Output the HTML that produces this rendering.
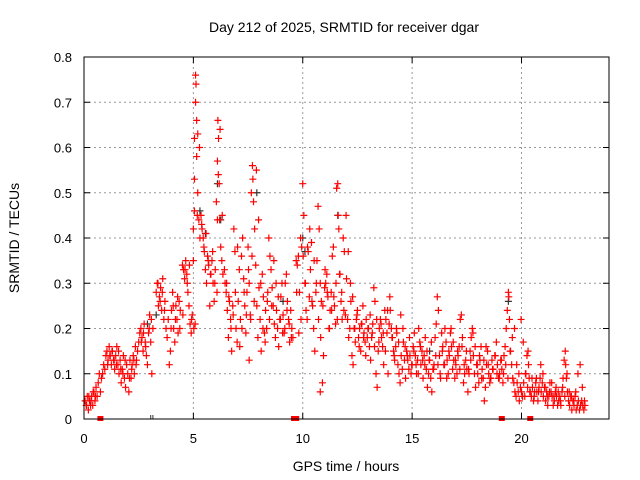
<!DOCTYPE html>
<html><head><meta charset="utf-8"><style>
body{margin:0;background:#fff;width:640px;height:480px;overflow:hidden}
svg{display:block;font-family:"Liberation Sans",sans-serif}
</style></head><body>
<svg id="chart" width="640" height="480">
<text x="344" y="32" font-size="14" text-anchor="middle" fill="#000">Day 212 of 2025, SRMTID for receiver dgar</text>
<text x="346" y="471" font-size="14" text-anchor="middle">GPS time / hours</text>
<text transform="translate(19,238) rotate(-90)" font-size="14" text-anchor="middle">SRMTID / TECUs</text>
<g id="grid"></g><g id="ticks"></g><g id="gray"></g><g id="marks"></g>
<rect x="84" y="57" width="525" height="362" fill="none" stroke="#000" stroke-width="1"/>
</svg>
<script>
const xTicks=[0,5,10,15,20];
const yTicks=[0,0.1,0.2,0.3,0.4,0.5,0.6,0.7,0.8];
const yTickLabels=["0","0.1","0.2","0.3","0.4","0.5","0.6","0.7","0.8"];
const hours=[0.05,0.1,0.15,0.2,0.25,0.3,0.35,0.4,0.45,0.5,0.55,0.6,0.65,0.7,0.75,0.8,0.85,0.9,0.95,
1.0,1.05,1.1,1.15,1.2,1.25,1.3,1.35,1.4,1.45,1.5,1.55,1.6,1.65,1.7,1.75,1.8,1.85,1.9,1.95,
2.0,2.05,2.1,2.15,2.2,2.25,2.3,2.35,2.4,2.45,2.5,2.55,2.6,2.65,2.7,2.75,2.8,2.85,2.9,2.95,3.0,3.05,3.1,3.15,
3.3,3.35,3.4,3.45,3.5,3.55,3.6,3.65,3.7,3.75,3.8,3.85,3.9,3.95,4.0,4.05,4.1,4.15,4.2,4.25,4.3,4.35,4.4,
4.5,4.55,4.6,4.65,4.7,4.75,4.8,4.85,4.9,4.95,5.0,5.05,5.05,5.1,5.1,5.12,5.15,5.15,5.2,5.2,5.25,5.3,5.0,5.05,
5.35,5.4,5.45,5.5,5.55,5.6,5.65,5.7,5.75,5.8,5.85,5.9,5.95,6.0,6.05,6.1,6.12,6.15,6.18,6.2,6.25,6.3,6.35,6.1,
6.45,6.5,6.55,6.6,6.65,6.7,6.75,6.8,6.85,6.9,6.95,7.0,7.05,7.1,7.15,7.2,7.25,7.3,7.35,7.4,7.45,
7.5,7.55,7.6,7.65,7.7,7.72,7.75,7.8,7.85,7.9,7.95,7.55,
8.0,8.05,8.1,8.15,8.2,8.25,8.3,8.35,8.4,8.45,8.5,8.55,8.6,8.65,8.7,8.75,8.8,8.85,8.9,8.95,
9.0,9.05,9.1,9.15,9.2,9.25,9.3,9.35,9.4,9.45,9.5,9.55,
9.7,9.75,9.8,9.85,9.9,9.95,10.0,10.05,10.1,10.15,10.2,10.25,10.3,
10.35,10.4,10.45,10.5,10.55,10.6,10.65,10.7,10.75,10.8,10.85,10.9,10.95,10.8,
11.0,11.05,11.1,11.15,11.2,11.25,11.3,11.35,11.4,11.45,11.5,11.55,11.6,11.62,11.65,11.7,11.75,11.8,11.85,11.9,11.95,
12.0,12.05,12.1,12.15,12.2,12.25,12.3,12.35,12.4,12.45,12.5,12.55,12.6,12.65,12.7,12.75,12.8,12.85,12.9,12.95,
13.0,13.05,13.1,13.15,13.2,13.25,13.3,13.35,13.4,13.45,13.5,13.55,13.6,13.65,13.7,13.75,13.8,13.85,13.9,13.95,
14.0,14.05,14.1,14.15,14.2,14.25,14.3,14.35,14.4,14.45,14.5,14.55,14.6,14.65,14.7,14.75,14.8,14.85,14.9,14.95,
15.0,15.05,15.1,15.15,15.2,15.25,15.3,15.35,15.4,15.45,15.5,15.55,15.6,15.65,15.7,15.75,15.8,15.85,15.9,15.95,
16.0,16.05,16.1,16.15,16.2,16.25,16.3,16.35,16.4,16.45,16.5,16.55,16.6,16.65,16.7,16.75,16.8,16.85,16.9,16.95,
17.0,17.05,17.1,17.15,17.2,17.25,17.3,17.35,17.4,17.45,17.5,17.55,17.6,17.65,17.7,17.75,17.8,17.85,17.9,17.95,
18.0,18.05,18.1,18.15,18.2,18.25,18.3,18.35,18.4,18.45,18.5,18.55,18.6,18.65,18.7,18.8,18.85,18.9,18.95,
19.0,19.05,19.1,19.15,19.2,19.25,19.3,19.35,19.4,19.42,19.45,19.5,19.55,19.6,19.65,19.7,19.75,19.8,19.85,19.9,19.95,
20.0,20.05,20.1,20.15,20.2,20.25,20.3,20.32,20.35,20.4,20.45,20.5,20.55,20.6,20.65,20.7,20.75,20.8,20.85,20.9,20.95,
21.0,21.05,21.1,21.15,21.2,21.25,21.3,21.35,21.4,21.45,21.5,21.55,21.6,21.65,21.7,21.75,21.8,21.85,21.9,21.95,
22.0,22.02,22.05,22.1,22.15,22.2,22.25,22.3,22.35,22.4,22.45,22.5,22.55,22.6,22.65,22.7,22.75,22.8,22.85,22.9];
const tec=[.04,.03,.05,.02,.04,.03,.05,.03,.06,.04,.07,.05,.08,.1,.06,.09,.1,.12,.11,
.14,.15,.13,.16,.14,.12,.15,.13,.11,.14,.16,.12,.1,.13,.08,.11,.14,.09,.07,.12,
.1,.06,.13,.09,.12,.14,.1,.16,.13,.15,.17,.19,.2,.18,.15,.21,.17,.14,.12,.19,.23,.17,.1,.2,
.28,.3,.25,.27,.29,.24,.31,.22,.26,.2,.18,.22,.12,.15,.24,.28,.2,.17,.25,.22,.19,.26,.24,
.34,.33,.31,.35,.32,.28,.25,.21,.19,.23,.35,.53,.62,.7,.76,.74,.66,.58,.63,.5,.44,.4,.42,.46,
.45,.42,.4,.37,.33,.3,.36,.34,.25,.32,.35,.3,.26,.33,.48,.57,.66,.62,.52,.44,.38,.35,.32,.44,
.3,.28,.24,.18,.26,.22,.15,.25,.42,.37,.2,.17,.26,.33,.22,.36,.4,.31,.25,.19,.28,
.38,.3,.23,.5,.56,.53,.48,.42,.34,.25,.18,.13,
.29,.22,.15,.32,.27,.19,.24,.2,.28,.4,.36,.33,.29,.25,.21,.18,.24,.2,.16,.22,
.27,.3,.23,.19,.3,.32,.26,.22,.17,.24,.2,.18,
.35,.34,.36,.28,.4,.38,.52,.45,.3,.24,.22,.37,.27,
.33,.39,.25,.2,.15,.28,.35,.47,.42,.3,.26,.08,.14,.06,
.29,.3,.32,.27,.2,.24,.28,.36,.38,.25,.21,.51,.52,.45,.42,.32,.26,.22,.4,.37,.23,
.31,.22,.18,.2,.26,.14,.12,.2,.17,.22,.24,.18,.2,.15,.21,.25,.19,.17,.22,.18,
.2,.16,.13,.18,.21,.29,.26,.1,.07,.15,.2,.22,.18,.16,.12,.24,.22,.19,.1,.21,
.24,.2,.18,.15,.13,.16,.19,.12,.1,.08,.14,.11,.17,.13,.09,.15,.13,.11,.14,.1,
.12,.16,.19,.14,.1,.13,.2,.17,.12,.15,.09,.14,.18,.11,.07,.1,.13,.09,.06,.11,
.12,.18,.21,.27,.24,.14,.09,.19,.16,.12,.2,.17,.13,.1,.14,.19,.16,.11,.13,.09,
.12,.1,.14,.16,.22,.23,.18,.08,.1,.13,.11,.06,.1,.15,.18,.2,.14,.1,.07,.12,
.1,.08,.13,.16,.11,.09,.04,.07,.12,.15,.1,.08,.09,.13,.11,.14,.17,.12,.09,
.1,.13,.11,.08,.14,.16,.2,.24,.28,.27,.22,.15,.12,.09,.08,.06,.05,.08,.06,.04,.07,
.06,.05,.08,.05,.1,.14,.15,.12,.09,.06,.05,.07,.04,.06,.08,.06,.04,.07,.09,.06,.08,
.05,.07,.04,.06,.03,.05,.08,.06,.05,.03,.04,.06,.05,.03,.04,.05,.03,.06,.09,.13,
.15,.12,.09,.06,.04,.03,.05,.02,.04,.03,.05,.02,.03,.04,.02,.03,.04,.03,.02,.03];
const hoursB=[0.12,0.22,0.32,0.42,0.52,1.08,1.18,1.28,1.38,1.48,1.58,1.68,1.78,1.88,2.08,2.18,2.28,2.38,2.62,2.72,2.82,2.98,3.08,
3.38,3.48,3.58,3.68,3.98,4.08,4.18,4.28,4.38,4.52,4.62,4.72,4.82,4.92,5.02,5.08,5.18,5.28,5.38,5.48,5.58,5.68,5.78,5.88,5.98,
6.08,6.14,6.22,6.32,6.42,6.52,6.62,6.72,6.82,6.92,7.02,7.12,7.22,7.32,7.42,7.52,7.62,7.68,7.78,7.88,7.98,8.08,8.18,8.28,8.38,
8.48,8.58,8.68,8.78,8.88,8.98,9.08,9.18,9.28,9.38,9.48,9.72,9.82,9.92,10.02,10.12,10.22,10.32,10.42,10.52,10.62,10.72,10.82,
10.92,11.02,11.12,11.22,11.32,11.42,11.52,11.58,11.68,11.78,11.88,11.98,12.08,12.18,12.28,12.38,12.48,12.58,12.68,12.78,12.88,
12.98,13.08,13.18,13.28,13.38,13.48,13.58,13.68,13.78,13.88,13.98,14.08,14.18,14.28,14.38,14.48,14.58,14.68,14.78,14.88,14.98,
15.08,15.18,15.28,15.38,15.48,15.58,15.68,15.78,15.88,15.98,16.08,16.18,16.28,16.38,16.48,16.58,16.68,16.78,16.88,16.98,
17.08,17.18,17.28,17.38,17.48,17.58,17.68,17.78,17.88,17.98,18.08,18.18,18.28,18.38,18.48,18.58,18.68,18.78,18.88,18.98,
19.08,19.18,19.28,19.38,19.48,19.58,19.68,19.78,19.88,19.98,20.08,20.18,20.28,20.38,20.48,20.58,20.68,20.78,20.88,20.98,
21.08,21.18,21.28,21.38,21.48,21.58,21.68,21.78,21.88,21.98,22.08,22.18,22.28,22.38,22.48,22.58,22.68,22.78,22.88];
const tecB=[.03,.05,.04,.06,.05,.12,.14,.15,.13,.12,.15,.11,.1,.13,.09,.11,.13,.12,.17,.19,.16,.2,.22,
.3,.26,.28,.24,.2,.25,.22,.27,.2,.23,.33,.3,.34,.22,.2,.21,.45,.6,.43,.38,.41,.35,.32,.37,.3,.28,
.54,.64,.45,.33,.3,.27,.2,.23,.28,.38,.16,.2,.28,.23,.33,.22,.36,.26,.55,.44,.3,.2,.17,.26,.22,
.25,.35,.3,.27,.22,.19,.2,.24,.21,.18,.28,.19,.22,.36,.3,.38,.42,.26,.35,.3,.22,.18,.25,.33,.28,
.2,.24,.27,.3,.22,.32,.28,.24,.45,.37,.3,.27,.2,.23,.16,.21,.18,.14,.2,.23,.19,.16,.22,
.17,.21,.19,.15,.24,.27,.18,.14,.2,.17,.23,.2,.16,.14,.18,.12,.15,.12,.1,.16,.13,.12,
.15,.13,.17,.11,.14,.12,.1,.15,.12,.09,.15,.2,.17,.13,.15,.11,.16,.12,.15,.11,
.13,.19,.16,.12,.14,.09,.13,.16,.12,.09,.11,.14,.1,.09,.13,.1,.12,.09,.15,.18,
.2,.12,.1,.22,.17,.1,.07,.06,.09,.05,.09,.06,.12,.1,.07,.05,.06,.08,.05,.07,
.06,.04,.07,.05,.1,.06,.05,.04,.06,.1,.12,.07,.04,.03,.05,.03,.04,.05,.03];
const grayHours=[5.3,5.55,6.1,6.25,7.9,9.1,10.0,10.1,11.6,13.0,15.8,19.4,2.9,3.3];
const grayTec=[.46,.41,.52,.44,.5,.26,.4,.37,.45,.2,.15,.26,.21,.23];
const zeroHours=[0.75,9.6,9.7,19.1,20.4];
const grayZeroHours=[3.05,3.15];

const X0=84,X1=609,Y0=419,Y1=57,XMAX=24,YMAX=0.8;
const sx=h=>X0+(h/XMAX)*(X1-X0);
const sy=v=>Y0-(v/YMAX)*(Y0-Y1);
const NS="http://www.w3.org/2000/svg";
function mk(t,a,p){const e=document.createElementNS(NS,t);for(const k in a)e.setAttribute(k,a[k]);p.appendChild(e);return e;}
const grid=document.getElementById('grid'),ticks=document.getElementById('ticks');
xTicks.forEach(t=>{const x=sx(t);
 if(t>0){const g=mk('line',{x1:x,x2:x,y1:Y0,y2:Y1,stroke:'#999','stroke-dasharray':'2,3'},grid);
 
 }
 mk('line',{x1:x,x2:x,y1:Y0,y2:Y0-6,stroke:'#000'},ticks);mk('line',{x1:x,x2:x,y1:Y1,y2:Y1+6,stroke:'#000'},ticks);
 const l=mk('text',{x:x,y:Y0+24,'font-size':13,'text-anchor':'middle'},ticks);l.textContent=t;
 
 });
yTicks.forEach((t,i)=>{const y=sy(t);
 if(t>0&&t<YMAX){const g=mk('line',{x1:X0,x2:X1,y1:y,y2:y,stroke:'#999','stroke-dasharray':'2,3'},grid);
 
 }
 mk('line',{x1:X0,x2:X0+6,y1:y,y2:y,stroke:'#000'},ticks);mk('line',{x1:X1,x2:X1-6,y1:y,y2:y,stroke:'#000'},ticks);
 const l=mk('text',{x:X0-12,y:y+5,'font-size':13,'text-anchor':'end'},ticks);l.textContent=yTickLabels[i];
 
 });
function plus(x,y,c,p,name){const d=`M${x-3.5},${y}H${x+3.5}M${x},${y-3.5}V${y+3.5}`;
 const e=mk('path',{d:d,stroke:c,'stroke-width':1.2,fill:'none'},p);
 
 }
const gray=document.getElementById('gray'),marks=document.getElementById('marks');
grayHours.forEach((h,i)=>plus(sx(h),sy(grayTec[i]),'#333',gray,'gray-point'));
hours.forEach((h,i)=>plus(sx(h),sy(tec[i]),'#f00',marks,'srmtid-point'));
hoursB.forEach((h,i)=>plus(sx(h),sy(tecB[i]),'#f00',marks,'srmtid-point'));
zeroHours.forEach(h=>{const r=mk('rect',{x:sx(h)-3,y:Y0-3,width:6,height:5,fill:'#f00'},marks);
 
 });
grayZeroHours.forEach(h=>{const r=mk('line',{x1:sx(h),x2:sx(h),y1:Y0-4,y2:Y0,stroke:'#333'},gray);
 
 });
</script>
</body></html>
